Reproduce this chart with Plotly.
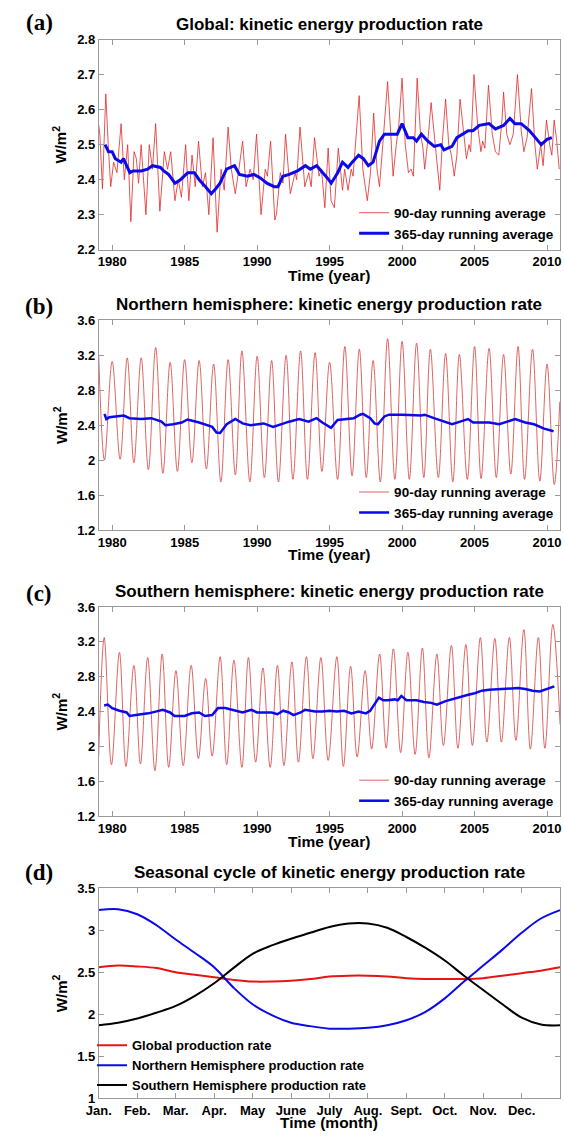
import plotly.graph_objects as go

W, H = 565, 1139

# ---------------- Panel (a): Global ----------------
gl90_t = [1979.07,1979.15,1979.33,1979.56,1979.73,1979.90,1980.10,1980.33,1980.62,1980.84,
          1981.07,1981.29,1981.51,1981.67,1981.82,1982.00,1982.33,1982.56,1982.78,1983.00,
          1983.29,1983.60,1983.82,1984.04,1984.33,1984.56,1984.78,1985.07,1985.29,1985.51,
          1985.73,1985.96,1986.22,1986.44,1986.67,1986.96,1987.24,1987.51,1987.73,1988.00,
          1988.22,1988.49,1988.71,1989.00,1989.24,1989.51,1989.73,1989.96,1990.27,1990.56,
          1990.71,1990.93,1991.22,1991.33,1991.60,1991.78,1991.96,1992.29,1992.62,1992.73,
          1992.96,1993.29,1993.56,1993.73,1993.96,1994.27,1994.44,1994.67,1994.90,1995.10,
          1995.33,1995.60,1995.89,1996.04,1996.27,1996.49,1996.62,1996.84,1997.04,1997.29,
          1997.60,1997.82,1998.04,1998.27,1998.44,1998.67,1999.00,1999.22,1999.38,1999.60,
          1999.78,2000.00,2000.22,2000.44,2000.62,2000.78,2001.04,2001.27,2001.44,2001.56,
          2001.82,2002.00,2002.33,2002.60,2002.78,2003.00,2003.22,2003.40,2003.60,2003.78,
          2004.00,2004.22,2004.44,2004.62,2004.73,2004.96,2005.22,2005.44,2005.56,2005.71,
          2005.96,2006.22,2006.44,2006.67,2006.89,2007.00,2007.22,2007.44,2007.67,2007.96,
          2008.22,2008.40,2008.62,2008.93,2009.16,2009.33,2009.56,2009.73,2009.96,2010.18,
          2010.33,2010.49,2010.67,2010.84]
gl90_v = [2.556,2.53,2.374,2.645,2.50,2.38,2.45,2.42,2.56,2.40,
          2.50,2.28,2.48,2.46,2.39,2.50,2.30,2.50,2.43,2.56,
          2.31,2.48,2.43,2.48,2.34,2.40,2.35,2.50,2.34,2.47,
          2.38,2.51,2.38,2.42,2.30,2.52,2.25,2.43,2.37,2.55,
          2.43,2.36,2.42,2.51,2.38,2.43,2.40,2.53,2.30,2.43,
          2.41,2.51,2.285,2.30,2.42,2.39,2.53,2.36,2.42,2.40,
          2.55,2.38,2.42,2.38,2.52,2.41,2.43,2.32,2.49,2.34,
          2.32,2.49,2.37,2.43,2.37,2.43,2.41,2.52,2.64,2.43,
          2.34,2.42,2.59,2.43,2.38,2.50,2.68,2.53,2.41,2.50,
          2.56,2.69,2.50,2.42,2.43,2.41,2.69,2.53,2.49,2.43,
          2.53,2.62,2.48,2.37,2.51,2.63,2.50,2.47,2.41,2.47,
          2.63,2.55,2.46,2.50,2.48,2.70,2.55,2.48,2.51,2.49,
          2.67,2.53,2.48,2.47,2.57,2.65,2.53,2.50,2.53,2.70,
          2.54,2.48,2.52,2.66,2.50,2.43,2.50,2.44,2.57,2.50,
          2.47,2.57,2.51,2.43]

gl365_t = [1979.51,1979.75,1980.00,1980.22,1980.62,1980.78,1981.00,1981.22,1981.44,1982.00,
           1982.44,1982.78,1983.33,1983.56,1983.89,1984.33,1984.71,1985.22,1985.67,1986.00,
           1986.44,1986.84,1987.16,1987.44,1987.89,1988.44,1988.78,1989.33,1989.78,1990.22,
           1990.67,1991.18,1991.44,1991.78,1992.22,1992.78,1993.33,1993.67,1994.11,1994.44,
           1994.84,1995.11,1995.56,1995.89,1996.27,1996.56,1997.00,1997.33,1997.67,1998.00,
           1998.44,1998.78,1999.22,1999.67,2000.00,2000.40,2000.78,2001.00,2001.33,2001.78,
           2002.22,2002.67,2002.89,2003.44,2003.78,2004.22,2004.56,2004.89,2005.33,2006.00,
           2006.44,2007.00,2007.44,2007.78,2008.22,2008.78,2009.22,2009.60,2010.00,2010.33]
gl365_v = [2.50,2.48,2.48,2.46,2.45,2.46,2.44,2.42,2.425,2.425,
           2.43,2.44,2.435,2.425,2.415,2.39,2.40,2.42,2.42,2.40,
           2.38,2.36,2.375,2.39,2.43,2.44,2.415,2.41,2.415,2.405,
           2.39,2.38,2.38,2.41,2.415,2.425,2.44,2.43,2.44,2.425,
           2.405,2.39,2.42,2.45,2.435,2.45,2.47,2.46,2.44,2.45,
           2.51,2.53,2.53,2.53,2.56,2.52,2.52,2.51,2.53,2.51,
           2.495,2.50,2.485,2.495,2.52,2.53,2.54,2.54,2.555,2.56,
           2.545,2.555,2.575,2.56,2.56,2.54,2.52,2.50,2.515,2.52]

# ---------------- Panel (b): Northern hemisphere ----------------
nh90_t = [1979.07,1979.47,1980.00,1980.55,1981.04,1981.50,1982.00,1982.50,1983.00,1983.50,
          1984.00,1984.50,1985.00,1985.50,1986.00,1986.50,1987.00,1987.50,1988.00,1988.50,
          1988.95,1989.50,1990.00,1990.50,1991.00,1991.47,1992.00,1992.47,1993.00,1993.47,
          1994.00,1994.47,1995.00,1995.55,1996.05,1996.55,1997.05,1997.53,1998.00,1998.50,
          1999.00,1999.50,2000.00,2000.50,2001.00,2001.50,2001.95,2002.50,2003.00,2003.50,
          2003.95,2004.50,2005.00,2005.45,2006.00,2006.50,2007.00,2007.50,2008.00,2008.45,
          2009.00,2009.50,2010.00,2010.50,2010.88]
nh90_v = [3.20,2.00,3.13,2.01,3.17,1.97,3.17,1.89,3.29,1.85,
          3.12,1.87,3.15,1.97,3.14,1.90,3.10,1.75,3.15,1.83,
          3.25,1.75,3.19,1.80,3.14,1.75,3.20,1.78,3.25,1.78,
          3.23,1.87,3.12,1.78,3.30,1.82,3.27,1.80,3.14,1.75,
          3.39,1.78,3.36,1.78,3.34,1.80,3.27,1.80,3.22,1.75,
          3.21,1.78,3.30,1.79,3.28,1.80,3.21,1.84,3.30,1.78,
          3.27,1.76,3.10,1.72,2.67]

nh365_t = [1979.47,1979.60,1979.80,1980.50,1980.80,1981.20,1982.00,1982.70,1983.40,1983.67,
           1984.20,1984.80,1985.20,1986.00,1986.90,1987.20,1987.45,1987.90,1988.50,1989.00,
           1989.55,1990.45,1991.10,1992.20,1992.90,1993.55,1994.10,1994.50,1994.85,1995.10,
           1995.55,1996.67,1997.10,1997.30,1997.80,1998.10,1998.33,1998.78,1999.10,2000.00,
           2001.33,2001.55,2002.20,2003.10,2003.45,2004.00,2004.55,2004.90,2006.00,2006.70,
           2007.50,2007.80,2008.50,2009.10,2009.80,2010.45]
nh365_v = [2.53,2.47,2.49,2.50,2.51,2.48,2.47,2.48,2.44,2.40,
           2.41,2.43,2.465,2.43,2.38,2.315,2.31,2.41,2.47,2.42,
           2.40,2.42,2.38,2.44,2.47,2.44,2.48,2.43,2.39,2.37,
           2.46,2.48,2.52,2.53,2.48,2.42,2.41,2.50,2.52,2.52,
           2.51,2.52,2.48,2.43,2.41,2.44,2.47,2.43,2.43,2.41,
           2.45,2.47,2.43,2.41,2.36,2.33]

# ---------------- Panel (c): Southern hemisphere ----------------
sh90_t = [1979.07,1979.45,1979.95,1980.50,1980.95,1981.50,1981.95,1982.45,1982.95,1983.45,
          1983.90,1984.40,1984.90,1985.45,1985.95,1986.45,1986.90,1987.45,1987.90,1988.40,
          1988.95,1989.40,1989.90,1990.40,1990.90,1991.40,1991.85,1992.40,1992.85,1993.40,
          1993.85,1994.40,1994.90,1995.50,1995.95,1996.45,1996.90,1997.45,1997.90,1998.45,
          1998.90,1999.40,1999.90,2000.40,2000.90,2001.40,2001.85,2002.40,2002.85,2003.40,
          2003.85,2004.40,2004.85,2005.40,2005.85,2006.40,2006.85,2007.40,2007.85,2008.40,
          2008.85,2009.40,2009.85,2010.40,2010.90]
sh90_v = [1.89,3.25,1.79,3.08,1.77,2.93,1.80,3.02,1.72,3.06,
          1.76,2.87,1.78,2.93,1.86,2.78,1.89,3.03,1.79,2.99,
          1.76,3.02,1.82,2.90,1.76,2.93,1.78,2.97,1.82,3.03,
          1.86,3.02,1.84,3.03,1.77,2.92,1.88,2.87,1.97,3.06,
          1.98,3.12,1.93,3.08,1.91,3.13,1.87,3.06,2.01,3.16,
          1.98,3.17,2.01,3.25,2.05,3.24,2.05,3.25,2.07,3.34,
          1.97,3.25,1.98,3.40,2.25]

sh365_t = [1979.45,1979.70,1980.00,1980.50,1981.00,1981.20,1982.00,1982.50,1983.00,1983.50,
           1984.00,1984.30,1985.00,1985.50,1986.00,1986.40,1986.90,1987.30,1987.80,1988.50,
           1989.00,1989.60,1990.00,1991.00,1991.40,1991.80,1992.20,1992.50,1993.00,1993.30,
           1994.00,1994.50,1995.00,1995.50,1996.00,1996.50,1997.00,1997.50,1997.80,1998.00,
           1998.40,1998.70,1999.00,1999.50,1999.70,1999.95,2000.30,2001.00,2001.50,2002.00,
           2002.40,2003.00,2004.00,2004.50,2005.00,2005.50,2006.00,2007.00,2007.50,2008.00,
           2008.50,2009.00,2009.50,2010.00,2010.50]
sh365_v = [2.47,2.48,2.44,2.41,2.39,2.35,2.37,2.38,2.40,2.42,
           2.39,2.35,2.35,2.38,2.39,2.35,2.36,2.44,2.44,2.41,
           2.39,2.42,2.39,2.39,2.37,2.41,2.39,2.36,2.39,2.42,
           2.40,2.40,2.41,2.40,2.41,2.38,2.40,2.38,2.41,2.46,
           2.56,2.53,2.53,2.54,2.53,2.58,2.53,2.53,2.51,2.50,
           2.48,2.52,2.57,2.59,2.61,2.64,2.65,2.66,2.67,2.67,
           2.66,2.64,2.63,2.66,2.69]

# ---------------- Panel (d): Seasonal cycle ----------------
month_pos = [1.0,1.5,2.0,2.5,3.0,3.5,4.0,4.5,5.0,5.5,6.0,6.5,7.0,7.5,8.0,8.5,9.0,9.5,
             10.0,10.5,11.0,11.5,12.0,12.5,13.0]
glob_cycle = [2.56,2.58,2.57,2.55,2.50,2.47,2.44,2.41,2.39,2.39,2.40,2.42,2.45,2.46,2.46,
              2.45,2.43,2.42,2.42,2.42,2.43,2.46,2.49,2.52,2.56]
nh_cycle = [3.24,3.25,3.19,3.06,2.89,2.73,2.56,2.32,2.12,1.99,1.90,1.86,1.83,1.83,1.84,
            1.87,1.93,2.03,2.19,2.39,2.58,2.77,2.97,3.14,3.24]
sh_cycle = [1.87,1.90,1.95,2.02,2.10,2.22,2.37,2.55,2.72,2.82,2.90,2.97,3.04,3.08,3.08,
            3.03,2.92,2.79,2.64,2.46,2.29,2.12,1.96,1.88,1.87]

year_ticks = [1980, 1985, 1990, 1995, 2000, 2005, 2010]
ya_ticks = [2.2, 2.3, 2.4, 2.5, 2.6, 2.7, 2.8]
ya_text = ["2.2", "2.3", "2.4", "2.5", "2.6", "2.7", "2.8"]
ybc_ticks = [1.2, 1.6, 2.0, 2.4, 2.8, 3.2, 3.6]
ybc_text = ["1.2", "1.6", "2", "2.4", "2.8", "3.2", "3.6"]
yd_ticks = [1, 1.5, 2, 2.5, 3, 3.5]
yd_text = ["1", "1.5", "2", "2.5", "3", "3.5"]
month_ticks = [1, 2, 3, 4, 5, 6, 7, 8, 9, 10, 11, 12]
month_labels = ["Jan.", "Feb.", "Mar.", "Apr.", "May", "June", "July", "Aug.",
                "Sept.", "Oct.", "Nov.", "Dec."]

titles = ["Global: kinetic energy production rate",
          "Northern hemisphere: kinetic energy production rate",
          "Southern hemisphere: kinetic energy production rate",
          "Seasonal cycle of kinetic energy production rate"]
panel_tags = ["(a)", "(b)", "(c)", "(d)"]

FONT = "Liberation Sans, Arial, sans-serif"
RED = "rgb(225,40,40)"
BLUE = "rgb(10,10,235)"

def py(px):
    return 1 - px / H

X0, X1 = 88 / W, 561 / W
doms = [(py(246), py(33)), (py(530), py(317.5)), (py(820), py(608)), (py(1106), py(893))]
title_y = [18, 301, 592, 877]
tag_y = [16, 304, 594, 877]
xtitle_y = [272, 555, 846, 1130]

fig = go.Figure()

def add(x, y, name, color, width, axis, legend, shape="linear", show=True):
    fig.add_trace(go.Scatter(x=x, y=y, mode="lines", name=name,
                             line=dict(color=color, width=width, shape=shape),
                             xaxis="x" + axis, yaxis="y" + axis,
                             legend=legend, showlegend=show))

add(gl90_t, gl90_v, "90-day running average", RED, 0.8, "", "legend")
add(gl365_t, gl365_v, "365-day running average", BLUE, 3, "", "legend")
add(nh90_t, nh90_v, "90-day running average", "rgb(215,60,60)", 0.8, "2", "legend2", "spline")
add(nh365_t, nh365_v, "365-day running average", BLUE, 2.5, "2", "legend2")
add(sh90_t, sh90_v, "90-day running average", "rgb(215,60,60)", 0.8, "3", "legend3", "spline")
add(sh365_t, sh365_v, "365-day running average", BLUE, 2.5, "3", "legend3")
add(month_pos, glob_cycle, "Global production rate", "rgb(230,20,20)", 2, "4", "legend4", "spline")
add(month_pos, nh_cycle, "Northern Hemisphere production rate", BLUE, 2, "4", "legend4", "spline")
add(month_pos, sh_cycle, "Southern Hemisphere production rate", "black", 2, "4", "legend4", "spline")

tickfont = dict(family=FONT, size=13, color="black", weight="bold")
axcommon = dict(showline=True, mirror="allticks", linecolor="#9a9a9a", linewidth=1,
                ticks="inside", ticklen=5, tickcolor="#9a9a9a", showgrid=False,
                zeroline=False, tickfont=tickfont)

layout = dict(width=W, height=H, autosize=False, paper_bgcolor="white", plot_bgcolor="white",
              margin=dict(l=0, r=0, t=0, b=0), font=dict(family=FONT, color="black"))

yr = [1979.08, 2010.9]
ax_names = ["", "2", "3", "4"]
for i, a in enumerate(ax_names):
    xa = dict(axcommon, domain=[X0, X1], anchor="y" + a)
    ya = dict(axcommon, domain=list(doms[i]), anchor="x" + a)
    if i < 3:
        xa.update(range=yr, tickvals=year_ticks, ticktext=[str(v) for v in year_ticks])
    else:
        xa.update(range=[1, 13], tickvals=month_ticks, ticktext=month_labels)
    if i == 0:
        ya.update(range=[2.2, 2.8], tickvals=ya_ticks, ticktext=ya_text)
    elif i < 3:
        ya.update(range=[1.2, 3.6], tickvals=ybc_ticks, ticktext=ybc_text)
    else:
        ya.update(range=[1, 3.5], tickvals=yd_ticks, ticktext=yd_text)
    layout["xaxis" + a] = xa
    layout["yaxis" + a] = ya

legfont = dict(family=FONT, size=13.5, color="black", weight="bold")
leg_y = [193, 476, 768]
for i, lname in enumerate(["legend", "legend2", "legend3"]):
    layout[lname] = dict(x=560 / W, xanchor="right", y=py(leg_y[i]), yanchor="top",
                         bgcolor="rgba(255,255,255,0)", borderwidth=0, font=legfont,
                         itemwidth=30, tracegroupgap=0)
layout["legend4"] = dict(x=81 / W, xanchor="left", y=py(1037), yanchor="top",
                         bgcolor="rgba(255,255,255,0)", borderwidth=0,
                         font=dict(family=FONT, size=13, color="black", weight="bold"),
                         itemwidth=30, tracegroupgap=0)

ann = []
xc = (X0 + X1) / 2
for i in range(4):
    ann.append(dict(text=titles[i], x=xc, y=py(title_y[i]), xref="paper", yref="paper",
                    showarrow=False, xanchor="center", yanchor="middle",
                    font=dict(family=FONT, size=17, color="black", weight="bold")))
    ann.append(dict(text=panel_tags[i], x=27 / W, y=py(tag_y[i]), xref="paper", yref="paper",
                    showarrow=False, xanchor="center", yanchor="middle",
                    font=dict(family="Liberation Serif, Times New Roman, serif", size=23,
                              color="black", weight="bold")))
    ann.append(dict(text="W/m<sup>2</sup>", x=48 / W, y=(doms[i][0] + doms[i][1]) / 2,
                    xref="paper", yref="paper", showarrow=False, textangle=-90,
                    xanchor="center", yanchor="middle",
                    font=dict(family=FONT, size=15, color="black", weight="bold")))
    ann.append(dict(text="Time (month)" if i == 3 else "Time (year)", x=xc,
                    y=py(xtitle_y[i]), xref="paper", yref="paper", showarrow=False,
                    xanchor="center", yanchor="middle",
                    font=dict(family=FONT, size=15.5, color="black", weight="bold")))
layout["annotations"] = ann

fig.update_layout(**layout)
fig.write_html("out.html",
               config={"displayModeBar": False, "staticPlot": True},
               post_script="document.body.style.margin='0px';document.body.style.padding='0px';")
